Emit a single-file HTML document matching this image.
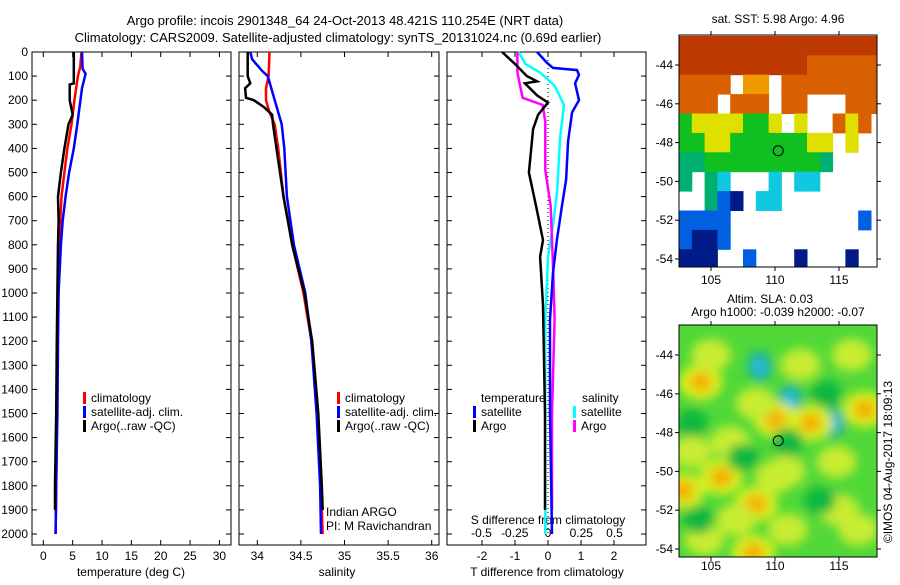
<!DOCTYPE html>
<html><head><meta charset="utf-8"><style>
body{margin:0;background:#fff;width:900px;height:580px;overflow:hidden}
svg{font-family:"Liberation Sans",sans-serif;font-size:12px}
</style></head><body>
<svg id="c" width="900" height="580" xmlns="http://www.w3.org/2000/svg">
<text x="345" y="25" text-anchor="middle" font-size="13">Argo profile: incois 2901348_64 24-Oct-2013 48.421S 110.254E (NRT data)</text>
<text x="338" y="42" text-anchor="middle" font-size="13">Climatology: CARS2009. Satellite-adjusted climatology: synTS_20131024.nc (0.69d earlier)</text>
<g id="g"></g>
</svg>
<script>
// ---------- data ----------
const depthTicks=[0,100,200,300,400,500,600,700,800,900,1000,1100,1200,1300,1400,1500,1600,1700,1800,1900,2000];
const tempTicks=[0,5,10,15,20,25,30];
const salTicks=[34,34.5,35,35.5,36];
const tdiffTicks=[-2,-1,0,1,2];
const sdiffTicks=[-0.5,-0.25,0,0.25,0.5];
const sdiffLabels=["-0.5","-0.25","0","0.25","0.5"];
// temperature profiles
const tClimDepth=[0,60,100,200,300,400,500,600,700,800,1000,1200,1500,1800,2000];
const tClimVal=[6.5,6.3,5.9,5.3,4.8,4.1,3.6,3.1,2.9,2.7,2.5,2.4,2.3,2.2,2.1];
const tSatDepth=[0,70,90,150,300,400,500,600,700,800,1000,1200,1500,1800,2000];
const tSatVal=[6.6,6.7,7.2,6.6,5.8,5.2,4.4,3.8,3.3,3.0,2.6,2.5,2.4,2.2,2.1];
const tArgoDepth=[0,130,135,200,260,300,400,500,600,700,800,1000,1200,1500,1800,1900];
const tArgoVal=[5.2,5.2,4.5,4.5,5.0,4.3,3.6,3.0,2.5,2.6,2.5,2.4,2.3,2.2,2.0,2.0];
// salinity profiles
const sClimDepth=[0,100,150,200,250,300,400,600,800,1000,1200,1500,1800,2000];
const sClimVal=[34.14,34.13,34.1,34.1,34.14,34.2,34.24,34.3,34.4,34.53,34.62,34.69,34.73,34.75];
const sSatDepth=[0,30,80,100,200,300,400,600,800,1000,1200,1500,1800,2000];
const sSatVal=[33.92,33.94,34.06,34.12,34.2,34.28,34.31,34.34,34.42,34.55,34.62,34.68,34.72,34.73];
const sArgoDepth=[0,100,130,150,190,200,230,260,300,400,600,800,1000,1200,1500,1800,1900];
const sArgoVal=[33.89,33.89,33.92,33.86,33.87,33.96,34.08,34.17,34.18,34.22,34.3,34.4,34.54,34.63,34.7,34.74,34.75];
// difference profiles
const dTSatDepth=[0,45,66,75,95,130,200,250,370,530,640,780,917,1110,1500,2000];
const dTSatVal=[-0.33,-0.03,0.15,0.88,0.94,0.82,0.94,0.73,0.61,0.55,0.42,0.27,0.15,0.06,0.06,0.12];
const dTArgoDepth=[0,50,100,122,130,180,210,260,320,500,640,780,850,1050,1500,1900];
const dTArgoVal=[-1.39,-1,-0.64,-0.33,-0.7,-0.33,0,-0.3,-0.45,-0.58,-0.36,-0.15,-0.24,-0.15,-0.09,-0.09];
const dSSatDepth=[0,50,85,140,220,360,570,710,850,1110,1500,2000];
const dSSatVal=[-0.22,-0.17,-0.06,0.05,0.12,0.09,0.07,0.04,0,-0.02,-0.02,-0.02];
const dSArgoDepth=[0,85,140,190,220,290,490,640,920,1110,1500,1900];
const dSArgoVal=[-0.23,-0.23,-0.21,-0.19,-0.04,-0.02,-0.02,0.02,0.04,0.05,0.03,0.03];
// SST map (rows lat -42.5 downward, 1 deg; cols lon 102.5 eastward, 1 deg)
const sstRows=[
"DDDDDDDDDDDDDDDD",
"DDDDDDDDDDOOOOOO",
"OOOO.oo.OOOOOOOO",
"OOO.OOO.OO...OOO",
"GYYYYGGY.Y..OYO.",
"GGYYGGGGGGYY.Y..",
"TTGGGGGGGGGT....",
"T.TC...C.CC.....",
"..TBN.CC........",
"BBBB..........B.",
"BNNB............",
"NNN..B...N...N.."];
const sstColors={D:"#bf3a00",O:"#d86000",o:"#f09a00",Y:"#e0e000",G:"#10c020",T:"#00b070",C:"#10c8e0",B:"#0060e0",N:"#001a88"};
// SLA map blobs: lon, lat, class (o=high, c=low, y=mid-high, g=mid-low)
const slaLon=[104.2,108.8,111.2,114.5,112.8,110,117,105.8,102.8,108.5,108.3,114.8,106.5,116.5,110.8,105,112,116,103.5,107,104.5,111,115,110,108.5,103.5,107.5,111,114,104,113.5];
const slaLat=[-45.4,-44.6,-46.3,-47.5,-47.5,-47.3,-46.8,-50.3,-51,-51.7,-54.2,-49.5,-48.5,-53,-50,-44,-44.5,-44,-49,-52.5,-53.5,-53,-52,-50.3,-46.5,-47.5,-49.3,-48.5,-46,-52.5,-51.5];
const slaKind=["o","c","c","c","o","o","o","o","o","o","o","y","y","y","y","y","y","y","y","y","y","y","y","y","y","g","g","g","g","g","g"];

// ---------- helpers ----------
const G=document.getElementById('g');
const NS="http://www.w3.org/2000/svg";
function mk(tag,attrs,parent){const e=document.createElementNS(NS,tag);for(const k in attrs)e.setAttribute(k,attrs[k]);(parent||G).appendChild(e);return e;}
function txt(x,y,s,anchor,parent){const e=mk('text',{x:x,y:y,'text-anchor':anchor||'start'},parent);e.textContent=s;return e;}
const yTop=52,yPer=0.241;
function yD(d){return yTop+d*yPer;}
const xT=v=>43.3+v*5.87;
const xS=v=>257.3+(v-34)*87.2;
const xDT=v=>548+v*33;
const xDS=v=>548+v*133;
function profile(ds,vs,xf,color,name){
  let p='';
  for(let i=0;i<ds.length;i++){p+=(i?'L':'M')+xf(vs[i]).toFixed(1)+','+yD(ds[i]).toFixed(1);}
  const e=mk('path',{d:p,fill:'none',stroke:color,'stroke-width':2.5});
  
  
}
function panel(x0,x1,name){
  const r=mk('rect',{x:x0,y:yTop,width:x1-x0,height:545-yTop,fill:'none',stroke:'#000','stroke-width':1});
  
  
  depthTicks.forEach(d=>{mk('line',{x1:x0,x2:x0+5,y1:yD(d),y2:yD(d),stroke:'#000'});mk('line',{x1:x1-5,x2:x1,y1:yD(d),y2:yD(d),stroke:'#000'});});
}
function xticks(ticks,labels,xf,y0,name){
  ticks.forEach((t,i)=>{
    mk('line',{x1:xf(t),x2:xf(t),y1:545,y2:540,stroke:'#000'});
    mk('line',{x1:xf(t),x2:xf(t),y1:yTop,y2:yTop+5,stroke:'#000'});
    const e=txt(xf(t),y0,labels[i],'middle');
    
    
  });
}
function legendItem(x,y,color,label,name){
  mk('rect',{x:x,y:y-10,width:3,height:12,fill:color});
  const e=txt(x+8,y,label);
  
  
}

// ---------- panel 1 temperature ----------
panel(32,231,'temperature-panel');
depthTicks.forEach(d=>{const e=txt(28,yD(d)+4,String(d),'end');});
xticks(tempTicks,tempTicks.map(String),xT,560,'temperature-tick-label');
let t=txt(131,576,'temperature (deg C)','middle');
profile(tClimDepth,tClimVal,xT,'#ff0000','temperature-climatology-line');
profile(tSatDepth,tSatVal,xT,'#0000ff','temperature-satellite-line');
profile(tArgoDepth,tArgoVal,xT,'#000000','temperature-argo-line');
legendItem(83,402,'#ff0000','climatology','legend-climatology');
legendItem(83,416,'#0000ff','satellite-adj. clim.','legend-satellite');
legendItem(83,430,'#000000','Argo(..raw -QC)','legend-argo');

// ---------- panel 2 salinity ----------
panel(239,439,'salinity-panel');
xticks(salTicks,["34","34.5","35","35.5","36"],xS,560,'salinity-tick-label');
t=txt(337,576,'salinity','middle');
profile(sClimDepth,sClimVal,xS,'#ff0000','salinity-climatology-line');
profile(sSatDepth,sSatVal,xS,'#0000ff','salinity-satellite-line');
profile(sArgoDepth,sArgoVal,xS,'#000000','salinity-argo-line');
legendItem(337,402,'#ff0000','climatology','legend-climatology');
legendItem(337,416,'#0000ff','satellite-adj. clim.','legend-satellite');
legendItem(337,430,'#000000','Argo(..raw -QC)','legend-argo');
t=txt(326,516,'Indian ARGO');
t=txt(326,530,'PI: M Ravichandran');

// ---------- panel 3 differences ----------
panel(447,646,'difference-panel');
mk('line',{x1:548,x2:548,y1:yTop,y2:545,stroke:'#000','stroke-dasharray':'1,3'});
xticks(tdiffTicks,["-2","-1","0","1","2"],xDT,560,'tdiff-tick-label');
sdiffTicks.forEach((v,i)=>{const e=txt(xDS(v),537,sdiffLabels[i],'middle');});
t=txt(548,524,'S difference from climatology','middle');
t=txt(547,576,'T difference from climatology','middle');
profile(dSSatDepth,dSSatVal,xDS,'#00ffff','sdiff-satellite-line');
profile(dSArgoDepth,dSArgoVal,xDS,'#ff00ff','sdiff-argo-line');
profile(dTSatDepth,dTSatVal,xDT,'#0000ff','tdiff-satellite-line');
profile(dTArgoDepth,dTArgoVal,xDT,'#000000','tdiff-argo-line');
t=txt(481,402,'temperature');
legendItem(473,416,'#0000ff','satellite','legend-t-satellite');
legendItem(473,430,'#000000','Argo','legend-t-argo');
t=txt(582,402,'salinity');
legendItem(573,416,'#00ffff','satellite','legend-s-satellite');
legendItem(573,430,'#ff00ff','Argo','legend-s-argo');

// ---------- maps ----------
const mx0=679,mx1=877,lonPx=12.8,latPx=19.4;
const lonX=l=>mx0+(l-102.5)*lonPx;
function mapFrame(yt,yb,lat44,name,labY){
  const latY=l=>lat44+(-44-l)*latPx;
  const r=mk('rect',{x:mx0,y:yt,width:mx1-mx0,height:yb-yt,fill:'none',stroke:'#000'});
  
  
  [-44,-46,-48,-50,-52,-54].forEach(l=>{
    mk('line',{x1:mx0,x2:mx0-4,y1:latY(l),y2:latY(l),stroke:'#000'});
    mk('line',{x1:mx1,x2:mx1+4,y1:latY(l),y2:latY(l),stroke:'#000'});
    const e=txt(mx0-6,latY(l)+4,String(l),'end');
  });
  [105,110,115].forEach(l=>{
    mk('line',{x1:lonX(l),x2:lonX(l),y1:yt,y2:yt-4,stroke:'#000'});
    mk('line',{x1:lonX(l),x2:lonX(l),y1:yb,y2:yb+4,stroke:'#000'});
    const e=txt(lonX(l),labY,String(l),'middle');
  });
  return latY;
}
// SST map
const m1top=35,m1bot=267,lat1=65;
const latY1=l=>lat1+(-44-l)*latPx;
const clip1=mk('clipPath',{id:'cp1'});mk('rect',{x:mx0,y:m1top,width:mx1-mx0,height:m1bot-m1top},clip1);
const sg=mk('g',{'clip-path':'url(#cp1)'});
sstRows.forEach((row,ri)=>{
  for(let ci=0;ci<row.length;ci++){
    const c=row[ci];if(c==='.')continue;
    const lat=-42.5-ri, lon=102.5+ci;
    const cell=mk('rect',{x:lonX(lon),y:latY1(lat),width:lonPx+0.5,height:latPx+0.5,fill:sstColors[c]},sg);
    
    
  }
});
mapFrame(m1top,m1bot,lat1,'sst-map',284);
mk('circle',{cx:lonX(110.254),cy:latY1(-48.421),r:5,fill:'none',stroke:'#000'});
t=txt(778,23,'sat. SST: 5.98 Argo: 4.96','middle');

// SLA map
const m2top=325,m2bot=557,lat2=355;
const latY2=l=>lat2+(-44-l)*latPx;
const defs=mk('defs',{});
const f=mk('filter',{id:'bl',x:'-50%',y:'-50%',width:'200%',height:'200%'},defs);mk('feGaussianBlur',{stdDeviation:5},f);
const clip2=mk('clipPath',{id:'cp2'},defs);mk('rect',{x:mx0,y:m2top,width:mx1-mx0,height:m2bot-m2top},clip2);
const sl=mk('g',{'clip-path':'url(#cp2)'});
mk('rect',{x:mx0,y:m2top,width:mx1-mx0,height:m2bot-m2top,fill:'#50d838'},sl);
const bg=mk('g',{filter:'url(#bl)'},sl);
slaLon.forEach((lon,i)=>{
  const k=slaKind[i];
  const cx=lonX(lon),cy=latY2(slaLat[i]);
  let e;
  if(k==='o'){
    mk('ellipse',{cx:cx,cy:cy,rx:22,ry:18,fill:'#d8f020'},bg);
    e=mk('ellipse',{cx:cx,cy:cy,rx:11,ry:10,fill:'#f5b000'},bg);
    
  }else if(k==='c'){
    mk('ellipse',{cx:cx,cy:cy,rx:12,ry:15,fill:'#10b0a0'},bg);
    e=mk('ellipse',{cx:cx,cy:cy,rx:6,ry:8,fill:'#30c0f0'},bg);
    
  }else if(k==='y'){
    e=mk('ellipse',{cx:cx,cy:cy,rx:20,ry:16,fill:'#c8ec30'},bg);
    
  }else{
    e=mk('ellipse',{cx:cx,cy:cy,rx:16,ry:14,fill:'#10b840'},bg);
    
  }
  
});
mapFrame(m2top,m2bot,lat2,'sla-map',570);
mk('circle',{cx:lonX(110.254),cy:latY2(-48.421),r:5,fill:'none',stroke:'#000'});
t=txt(770,303,'Altim. SLA: 0.03','middle');
t=txt(778,316,'Argo h1000: -0.039 h2000: -0.07','middle');
t=txt(0,0,'©IMOS 04-Aug-2017 18:09:13','middle');t.setAttribute('transform','translate(892,462) rotate(-90)');

</script>
</body></html>
